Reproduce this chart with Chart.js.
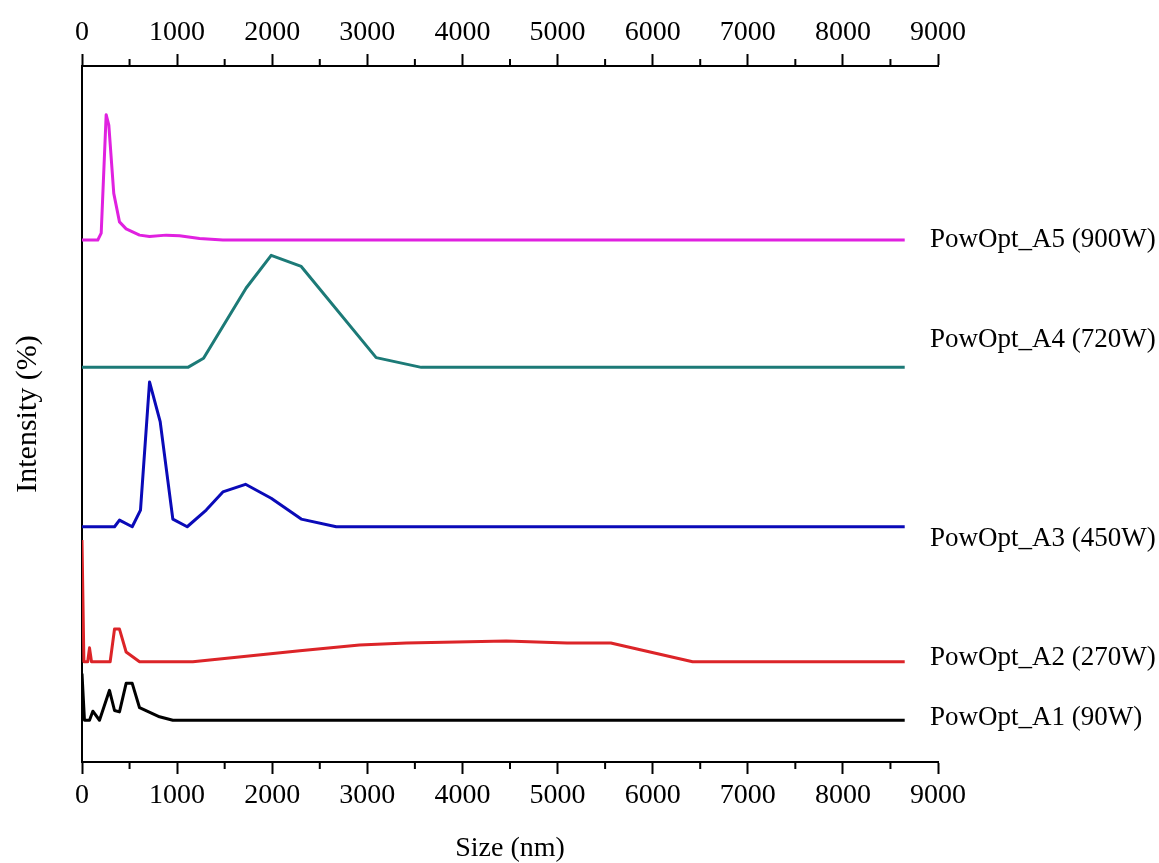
<!DOCTYPE html>
<html>
<head>
<meta charset="utf-8">
<script src="https://cdn.jsdelivr.net/npm/chart.js@4.4.1/dist/chart.umd.min.js"></script>
<style>
  body { margin: 0; background: #fff; }
</style>
</head>
<body>
<canvas id="sizeChart" width="1159" height="863"></canvas>
<script>
var seriesNames = ["PowOpt_A1 (90W)", "PowOpt_A2 (270W)", "PowOpt_A3 (450W)", "PowOpt_A4 (720W)", "PowOpt_A5 (900W)"];
var seriesColors = ["#000000", "#dc2428", "#0a0ab8", "#1c7a77", "#e021e0"];
var baselineOffset = [6.0, 14.4, 33.8, 56.7, 75.0];

var sizeA1 = [0, 26, 79, 114, 184, 289, 342, 394, 464, 528, 605, 815, 955, 8650];
var intA1 = [6.7, 0, 0, 1.3, 0, 4.3, 1.4, 1.2, 5.3, 5.3, 1.8, 0.5, 0, 0];

var sizeA2 = [0, 20, 60, 79, 100, 296, 342, 394, 464, 605, 1165, 2290, 2918, 3410, 4460, 5100, 5560, 6420, 8650];
var intA2 = [17.5, 0, 0, 2.0, 0, 0, 4.7, 4.7, 1.4, 0, 0, 1.6, 2.4, 2.7, 3.0, 2.7, 2.7, 0, 0];

var sizeA3 = [0, 342, 394, 528, 615, 710, 822, 955, 1106, 1306, 1481, 1719, 1989, 2305, 2673, 8650];
var intA3 = [0, 0, 0.96, 0, 2.4, 20.8, 15.1, 1.1, 0, 2.4, 5.0, 6.1, 4.1, 1.1, 0, 0];

var sizeA4 = [0, 1113, 1278, 1726, 1989, 2305, 3093, 3567, 8650];
var intA4 = [0, 0, 1.3, 11.4, 16.1, 14.5, 1.4, 0, 0];

var sizeA5 = [0, 166, 202, 254, 282, 334, 394, 464, 605, 710, 885, 1025, 1236, 1481, 8650];
var intA5 = [0, 0, 1.0, 18.0, 16.5, 6.7, 2.6, 1.6, 0.7, 0.5, 0.7, 0.6, 0.2, 0, 0];

var xTicks = [0, 1000, 2000, 3000, 4000, 5000, 6000, 7000, 8000, 9000];

var serif = "'Liberation Serif', 'Times New Roman', serif";
var labelShift = [-2, -4, 12, -27, 0];

function buildSeries(sizes, values, offset) {
    var pts = [];
    for (var i = 0; i < sizes.length; i++) {
        pts.push({x: sizes[i], y: values[i] + offset});
    }
    return pts;
}

var allSizes = [sizeA1, sizeA2, sizeA3, sizeA4, sizeA5];
var allInts = [intA1, intA2, intA3, intA4, intA5];

var datasets = [];
for (var s = 0; s < seriesNames.length; s++) {
    datasets.push({
        label: seriesNames[s],
        data: buildSeries(allSizes[s], allInts[s], baselineOffset[s]),
        borderColor: seriesColors[s],
        backgroundColor: seriesColors[s],
        borderWidth: 3,
        borderJoinStyle: 'round',
        pointRadius: 0,
        tension: 0,
        fill: false
    });
}

// minor ticks at 500s and series names at the right end
var extrasPlugin = {
    id: 'extras',
    afterDraw: function (chart) {
        var ctx = chart.ctx;
        var area = chart.chartArea;
        var xs = chart.scales.x;
        ctx.save();
        ctx.strokeStyle = '#000';
        ctx.lineWidth = 2;
        for (var v = 500; v < 9000; v += 1000) {
            var px = xs.getPixelForValue(v);
            ctx.beginPath();
            ctx.moveTo(px, area.bottom);
            ctx.lineTo(px, area.bottom + 7);
            ctx.moveTo(px, area.top);
            ctx.lineTo(px, area.top - 7);
            ctx.stroke();
        }
        ctx.fillStyle = '#000';
        ctx.font = '27px ' + serif;
        ctx.textBaseline = 'middle';
        ctx.textAlign = 'left';
        var ys = chart.scales.y;
        for (var i = 0; i < seriesNames.length; i++) {
            ctx.fillText(seriesNames[i], 930, ys.getPixelForValue(baselineOffset[i]) + labelShift[i]);
        }
        ctx.restore();
    }
};

function xAxis(pos, withTitle) {
    return {
        type: 'linear',
        position: pos,
        min: 0,
        max: 9000,
        afterBuildTicks: function (scale) {
            scale.ticks = xTicks.map(function (t) { return {value: t}; });
        },
        afterFit: function (scale) {
            scale.height = pos === 'top' ? 66 : 101;
        },
        ticks: {
            color: '#000',
            font: {family: serif, size: 28},
            padding: 5,
            maxRotation: 0,
            autoSkip: false,
            callback: function (value) {
                return String(value);
            }
        },
        grid: {
            drawOnChartArea: false,
            drawTicks: true,
            tickLength: 12,
            tickColor: '#000',
            tickWidth: 2
        },
        border: {display: true, color: '#000', width: 2},
        title: {
            display: withTitle,
            text: 'Size (nm)',
            color: '#000',
            font: {family: serif, size: 28, lineHeight: 1.0},
            padding: {top: 0, bottom: 0}
        }
    };
}

new Chart(document.getElementById('sizeChart'), {
    type: 'line',
    data: {datasets: datasets},
    plugins: [extrasPlugin],
    options: {
        responsive: false,
        animation: false,
        devicePixelRatio: 1,
        layout: {padding: {left: 0, right: 221, top: 0, bottom: 0}},
        plugins: {
            legend: {display: false},
            tooltip: {enabled: false}
        },
        scales: {
            x: xAxis('bottom', true),
            x2: xAxis('top', false),
            y: {
                type: 'linear',
                min: 0,
                max: 100,
                afterFit: function (scale) {
                    scale.width = 82;
                },
                ticks: {display: false},
                grid: {display: false},
                border: {display: true, color: '#000', width: 2},
                title: {
                    display: true,
                    text: 'Intensity (%)',
                    color: '#000',
                    font: {family: serif, size: 30},
                    padding: {top: 10}
                }
            }
        }
    }
});
</script>
</body>
</html>
